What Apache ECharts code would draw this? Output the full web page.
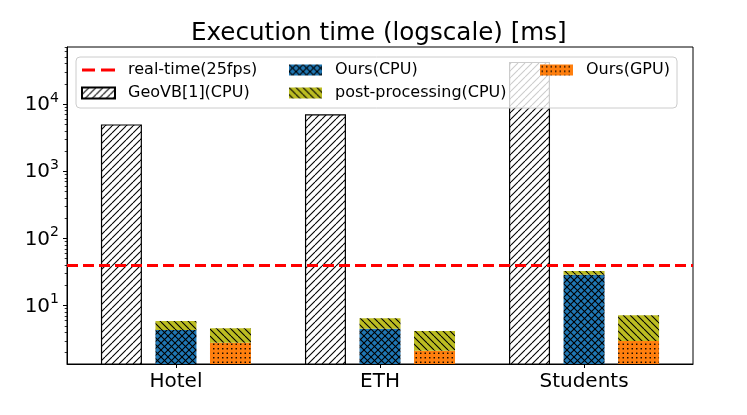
<!DOCTYPE html>
<html>
<head>
<meta charset="utf-8">
<script src="https://cdn.jsdelivr.net/npm/echarts@6/dist/echarts.min.js"></script>
<style>
  html, body { margin: 0; padding: 0; background: #fff; }
  #chart { width: 747px; height: 415px; }
</style>
</head>
<body>
<div id="chart"></div>
<script>
// values (ms, log scale)
const categories = ["Hotel", "ETH", "Students"];
const geovb = [4980, 7020, 42400];
const oursCpu = [4.34, 4.54, 28.7];
const postCpu = [1.57, 1.95, 4.2];
const oursGpu = [2.8, 2.13, 2.97];
const postGpu = [1.8, 2.06, 4.22];
const realTime = 40;
const yMajorTicks = [10, 100, 1000, 10000];
const yMin = 1.354;
const yMax = 70600;

// minor ticks 2..9 of each decade
var yMinorTicks = [];
[1, 10, 100, 1000, 10000].forEach(function (d) {
  for (let k = 2; k <= 9; k++) yMinorTicks.push(k * d);
});

function hatch(bg, kind, size) {
  const c = document.createElement("canvas");
  c.width = size;
  c.height = size;
  const g = c.getContext("2d");
  g.fillStyle = bg;
  g.fillRect(0, 0, size, size);
  g.strokeStyle = "#000";
  g.fillStyle = "#000";
  g.lineWidth = 1.1;
  if (kind.indexOf("/") >= 0) {
    for (let o = -size; o <= size; o += size) {
      g.beginPath();
      g.moveTo(o, size);
      g.lineTo(o + size, 0);
      g.stroke();
    }
  }
  if (kind.indexOf("\\") >= 0) {
    for (let o = -size; o <= size; o += size) {
      g.beginPath();
      g.moveTo(o, 0);
      g.lineTo(o + size, size);
      g.stroke();
    }
  }
  if (kind === ".") {
    const h = size / 2;
    [[0, 0], [h, 0], [0, h], [h, h]].forEach(function (p) {
      g.fillRect(p[0] + h / 2 - 0.7, p[1] + h / 2 - 0.7, 1.4, 1.4);
    });
  }
  return { image: c, repeat: "repeat" };
}

// value first so the stack sums the y values
function points(vals) {
  return vals.map(function (v, i) { return [v, i]; });
}

var myChart = echarts.init(document.getElementById("chart"));

var dashIcon = "path://M0,4h13v3h-13z M19,4h14v3h-14z";

var legendBase = {
  orient: "vertical",
  top: 62,
  padding: 0,
  itemGap: 7,
  itemWidth: 33,
  itemHeight: 11,
  icon: "rect",
  selectedMode: false,
  z: 6,
  textStyle: { fontSize: 16, color: "#000", padding: [0, 0, 0, 8], fontFamily: "DejaVu Sans" },
};

var barBase = {
  type: "bar",
  barWidth: 41,
  barGap: "33%",
  clip: true,
  z: 2,
  encode: { x: 1, y: 0 },
};

var option = {
  animation: false,
  textStyle: { fontFamily: "DejaVu Sans" },
  title: {
    text: "Execution time (logscale) [ms]",
    left: 191,
    top: 21,
    padding: 0,
    textStyle: { fontSize: 24.6, fontWeight: "normal", color: "#000" },
  },
  grid: {
    left: 67,
    right: 54,
    top: 47,
    bottom: 51,
    show: true,
    borderColor: "#000",
    borderWidth: 1,
  },
  graphic: [
    {
      type: "rect",
      z: 5,
      shape: { x: 76, y: 57, width: 601, height: 51, r: 4 },
      style: { fill: "rgba(255,255,255,0.8)", stroke: "#cccccc", lineWidth: 1 },
    },
  ],
  legend: [
    Object.assign({}, legendBase, {
      left: 81,
      data: [{ name: "real-time(25fps)", icon: dashIcon }, "GeoVB[1](CPU)"],
    }),
    Object.assign({}, legendBase, {
      left: 289,
      data: ["Ours(CPU)", "post-processing(CPU)"],
    }),
    Object.assign({}, legendBase, {
      left: 540,
      data: ["Ours(GPU)"],
    }),
  ],
  xAxis: {
    type: "value",
    min: -0.534,
    max: 2.534,
    splitLine: { show: false },
    axisLine: { show: true, onZero: false, lineStyle: { color: "#000", width: 1 } },
    axisTick: { show: true, customValues: [0, 1, 2], length: 4, lineStyle: { color: "#000" } },
    axisLabel: {
      customValues: [0, 1, 2],
      formatter: function (v) { return categories[Math.round(v)]; },
      fontSize: 20,
      color: "#000",
      margin: 8,
    },
  },
  yAxis: [
    {
      type: "log",
      min: yMin,
      max: yMax,
      splitLine: { show: false },
      axisLine: { show: true, onZero: false, lineStyle: { color: "#000", width: 1 } },
      axisTick: { show: true, customValues: yMajorTicks, length: 4, lineStyle: { color: "#000" } },
      axisLabel: {
        customValues: yMajorTicks,
        margin: 8,
        color: "#000",
        formatter: function (v) {
          return "{b|10}{s|" + Math.round(Math.log10(v)) + "}";
        },
        rich: {
          b: { fontSize: 20, color: "#000", padding: [2, 0, 0, 0] },
          s: { fontSize: 14, color: "#000", padding: [0, 0, 12, 0] },
        },
      },
    },
    {
      type: "log",
      min: yMin,
      max: yMax,
      position: "left",
      splitLine: { show: false },
      axisLine: { show: false, onZero: false },
      axisLabel: { show: false },
      axisTick: { show: true, customValues: yMinorTicks, length: 2.3, lineStyle: { color: "#000", width: 0.8 } },
    },
  ],
  series: [
    {
      type: "line",
      name: "real-time(25fps)",
      data: [],
      z: 4,
      itemStyle: { color: "#ff0000" },
      lineStyle: { color: "#ff0000" },
      markLine: {
        silent: true,
        symbol: "none",
        label: { show: false },
        lineStyle: { color: "#ff0000", width: 3, type: [11, 5] },
        data: [{ yAxis: realTime }],
      },
    },
    Object.assign({}, barBase, {
      name: "GeoVB[1](CPU)",
      data: points(geovb),
      itemStyle: { color: hatch("#ffffff", "/", 7), borderColor: "#000", borderWidth: 1.2 },
    }),
    Object.assign({}, barBase, {
      name: "Ours(CPU)",
      stack: "cpu",
      data: points(oursCpu),
      itemStyle: { color: hatch("#1f77b4", "/\\", 7) },
    }),
    Object.assign({}, barBase, {
      name: "post-processing(CPU)",
      stack: "cpu",
      data: points(postCpu),
      itemStyle: { color: hatch("#bcbd22", "\\", 7) },
    }),
    Object.assign({}, barBase, {
      name: "Ours(GPU)",
      stack: "gpu",
      data: points(oursGpu),
      itemStyle: { color: hatch("#ff7f0e", ".", 9) },
    }),
    Object.assign({}, barBase, {
      name: "post-processing(CPU)",
      stack: "gpu",
      data: points(postGpu),
      itemStyle: { color: hatch("#bcbd22", "\\", 7) },
    }),
  ],
};

myChart.setOption(option);
</script>
</body>
</html>
